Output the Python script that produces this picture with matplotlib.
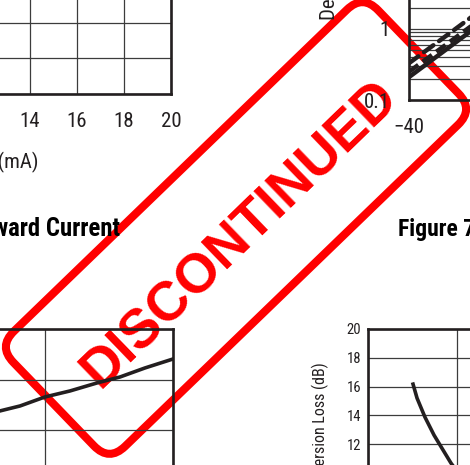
import matplotlib
matplotlib.use("Agg")
import matplotlib.pyplot as plt
from matplotlib.patches import FancyBboxPatch
from matplotlib.transforms import Affine2D

W, H = 470, 465
NARROW = ['Roboto Condensed', 'Archivo Narrow', 'PT Sans Narrow', 'DejaVu Sans']
plt.rcParams['font.family'] = NARROW

# ---------------- data ----------------
# top-left panel (Forward Current axis)
tl_xticks = [0, 2, 4, 6, 8, 10, 12, 14, 16, 18, 20]
tl_xlabels = ['0', '2', '4', '6', '8', '10', '12', '14', '16', '18', '20']
tl_yticks = [0, 1, 2, 3, 4, 5, 6]

# top-right panel (log axis vs temperature)
tr_xticks = [-40, -15, 10, 35, 60, 85]
tr_xlabels = ['\u221240', '\u221215', '10', '35', '60', '85']
tr_yticks = [0.1, 1, 10]
tr_ylabels = ['0.1', '1', '10']
tr_temp = [-40, -30, -20]
tr_solid = [0.21, 0.52, 1.29]
tr_dash1 = [0.25, 0.61, 1.5]
tr_dash2 = [0.33, 0.81, 2.0]

# bottom-left panel
bl_x = [2.0, 2.648, 2.805, 3.0, 3.195, 3.406, 3.586, 3.781, 4.0]
bl_y = [0.89, 1.383, 1.481, 1.659, 1.777, 1.935, 2.053, 2.231, 2.408]

# bottom-right panel (Conversion Loss)
br_x = [0.506, 0.551, 0.640, 0.742, 0.831, 0.933, 1.034]
br_y = [16.17, 15.2, 13.88, 12.63, 11.72, 10.68, 9.84]
br_yticks = [0, 2, 4, 6, 8, 10, 12, 14, 16, 18, 20]

stamp_text = 'DISCONTINUED'

# ---------------- helpers ----------------
def box(l, t, r, b):
    return [l / W, 1 - b / H, (r - l) / W, (b - t) / H]

INK = '#231f20'
GRID = '#3c3c3c'
RED = '#ff0000'

fig = plt.figure(figsize=(W / 100, H / 100), dpi=100)
fig.patch.set_facecolor('white')

def style(ax, lab_size, pad_x, pad_y):
    ax.set_facecolor('none')
    for s in ax.spines.values():
        s.set_linewidth(1.9)
        s.set_color(INK)
    ax.tick_params(axis='both', which='both', length=0, labelsize=lab_size,
                   colors='#231f20')
    ax.tick_params(axis='x', pad=pad_x)
    ax.tick_params(axis='y', pad=pad_y)
    ax.grid(True, which='major', color=GRID, linewidth=0.9)
    ax.set_axisbelow(True)
    ax.set_zorder(2)

# ---------------- stamp (bottom layer) ----------------
sax = fig.add_axes([0, 0, 1, 1], zorder=0)
sax.set_xlim(0, W)
sax.set_ylim(H, 0)
sax.axis('off')
rect = FancyBboxPatch((-253.5, -80), 507, 160,
                      boxstyle='round,pad=0,rounding_size=22',
                      facecolor='none', edgecolor=RED, linewidth=5.8,
                      transform=Affine2D().rotate_deg(-44).translate(236, 228) + sax.transData)
sax.add_patch(rect)
sax.text(250.3, 245, stamp_text, rotation=44, rotation_mode='anchor',
         ha='center', va='baseline', color=RED, fontsize=39.5,
         fontweight='bold', family=['Liberation Sans', 'DejaVu Sans'])

# ---------------- top-left ----------------
ax1 = fig.add_axes(box(-299, -119, 171, 94))
style(ax1, 15, 13, 13)
ax1.set_xlim(0, 20)
ax1.set_ylim(0, 6)
ax1.set_xticks(tl_xticks)
ax1.set_xticklabels(tl_xlabels)
ax1.set_yticks(tl_yticks)
fig.text(38 / W, 1 - 168 / H, 'Forward Current (mA)', ha='right', va='baseline',
         fontsize=15, color=INK)
fig.text(120 / W, 1 - 236 / H, 'Figure 6. Insertion Loss vs. Forward Current',
         ha='right', va='baseline', fontsize=17.8, fontweight='bold', color='black')

# ---------------- top-right ----------------
ax2 = fig.add_axes(box(409, -42, 879, 100))
style(ax2, 15, 13, 13.7)
ax2.set_yscale('log')
ax2.set_xlim(-40, 85)
ax2.set_ylim(0.1, 10)
ax2.set_xticks(tr_xticks)
ax2.set_xticklabels(tr_xlabels)
ax2.set_yticks(tr_yticks)
ax2.set_yticklabels(tr_ylabels)
ax2.yaxis.set_minor_locator(matplotlib.ticker.LogLocator(base=10, subs=range(2, 10)))
ax2.yaxis.set_minor_formatter(matplotlib.ticker.NullFormatter())
ax2.grid(True, which='minor', axis='y', color=GRID, linewidth=0.9)
ax2.grid(False, axis='x')
ax2.plot(tr_temp, tr_solid, color=INK, lw=3.2, solid_capstyle='round')
ax2.plot(tr_temp, tr_dash1, color=INK, lw=3.2, dashes=(2.6, 1.2))
ax2.plot(tr_temp, tr_dash2, color=INK, lw=3.2, dashes=(2.6, 1.6), dash_capstyle='round')
fig.text(335 / W, 1 - 20 / H, 'Degradation (dB)', rotation=90, rotation_mode='anchor',
         ha='left', va='baseline', fontsize=15, color=INK)
fig.text(398 / W, 1 - 236 / H, 'Figure 7. Degradation vs. Temperature',
         ha='left', va='baseline', fontsize=17, fontweight='bold', color='black')

# ---------------- bottom-left ----------------
ax3 = fig.add_axes(box(-339, 329, 173, 481))
style(ax3, 10, 5, 5)
ax3.set_xlim(0, 4)
ax3.set_ylim(0, 3)
ax3.set_xticks([0, 1, 2, 3, 4])
ax3.set_yticks([0, 1, 2, 3])
ax3.plot(bl_x, bl_y, color=INK, lw=2.6)

# ---------------- bottom-right ----------------
ax4 = fig.add_axes(box(368, 329, 813, 617))
style(ax4, 10.5, 5, 5)
ax4.set_xlim(0, 5)
ax4.set_ylim(0, 20)
ax4.set_xticks([0, 1, 2, 3, 4, 5])
ax4.set_yticks(br_yticks)
ax4.plot(br_x, br_y, color=INK, lw=2.6)
fig.text(325 / W, 1 - 362 / H, 'Conversion Loss (dB)', rotation=90, rotation_mode='anchor',
         ha='right', va='baseline', fontsize=11.5, color=INK)

fig.savefig('out.png', dpi=100, facecolor='white')
